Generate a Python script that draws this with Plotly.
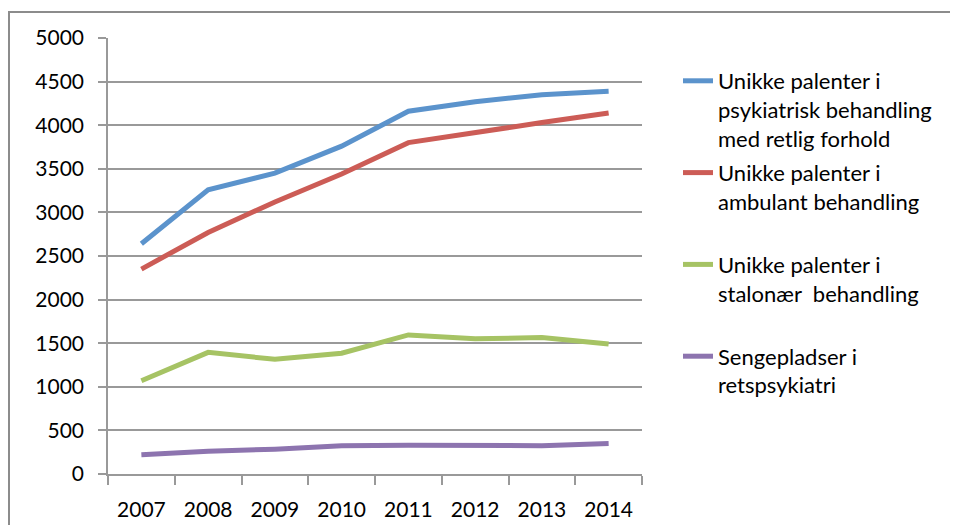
import plotly.graph_objects as go

years = ["2007", "2008", "2009", "2010", "2011", "2012", "2013", "2014"]
psykiatrisk = [2640, 3260, 3450, 3760, 4160, 4270, 4350, 4390]
ambulant = [2350, 2770, 3120, 3440, 3800, 3920, 4030, 4140]
stationaer = [1070, 1395, 1315, 1385, 1595, 1550, 1565, 1490]
sengepladser = [220, 260, 285, 325, 330, 330, 325, 350]

names = [
    "Unikke palenter i<br>psykiatrisk behandling<br>med retlig forhold",
    "Unikke palenter i<br>ambulant behandling<br>\u00a0",
    "Unikke palenter i<br>stalon\u00e6r\u00a0 behandling<br>\u00a0",
    "Sengepladser i<br>retspsykiatri<br>\u00a0",
]
series = [psykiatrisk, ambulant, stationaer, sengepladser]
colors = ["#5B93CC", "#CC5C56", "#A6C364", "#8D74AF"]

# page has an 8px body margin; figure coordinates are page coords minus 8
OFF = 8
W, H = 958 - OFF, 525 - OFF
L, R, T, B = 108 - OFF, 642 - OFF, 38 - OFF, 474 - OFF

fig = go.Figure()
for i, (nm, vals, c) in enumerate(zip(names, series, colors)):
    fig.add_trace(go.Scatter(
        x=years, y=vals, name=nm, mode="lines",
        line=dict(color=c, width=5),
        legendgroup=str(i),
    ))

FONT = "Lato"
grid = "#999999"
fig.update_layout(
    width=W, height=H,
    margin=dict(l=L, r=W - R, t=T, b=H - B, pad=0, autoexpand=False),
    paper_bgcolor="white", plot_bgcolor="white",
    font=dict(family=FONT, size=21, color="#000000"),
    showlegend=True,
    legend=dict(
        x=(678 - OFF - L) / (R - L), xanchor="left",
        y=(B - (60 - OFF)) / (B - T), yanchor="top",
        valign="top", tracegroupgap=3,
        font=dict(family=FONT, size=22, color="#000000"),
        bgcolor="rgba(0,0,0,0)",
    ),
    xaxis=dict(
        type="category", range=[-0.5, 7.5], automargin=False,
        tickson="boundaries", ticks="outside", ticklen=9, tickwidth=1.5, tickcolor=grid,
        showline=True, linecolor=grid, linewidth=1.5,
        showgrid=False, zeroline=False,
        ticklabelstandoff=16,
    ),
    yaxis=dict(
        range=[0, 5000], tickvals=list(range(0, 5001, 500)), automargin=False,
        ticks="outside", ticklen=8, tickwidth=1.5, tickcolor=grid,
        showline=True, linecolor=grid, linewidth=1.5,
        showgrid=True, gridcolor=grid, gridwidth=1.5,
        zeroline=False,
        ticklabelstandoff=10,
    ),
    shapes=[dict(
        type="rect", xref="paper", yref="paper",
        x0=(9 - OFF - L) / (R - L), x1=1.8,
        y0=-0.3, y1=(B - (12 - OFF)) / (B - T),
        line=dict(color="#8C8C8C", width=2), fillcolor="rgba(0,0,0,0)",
        layer="below",
    )],
)

fig.write_html("out.html")
